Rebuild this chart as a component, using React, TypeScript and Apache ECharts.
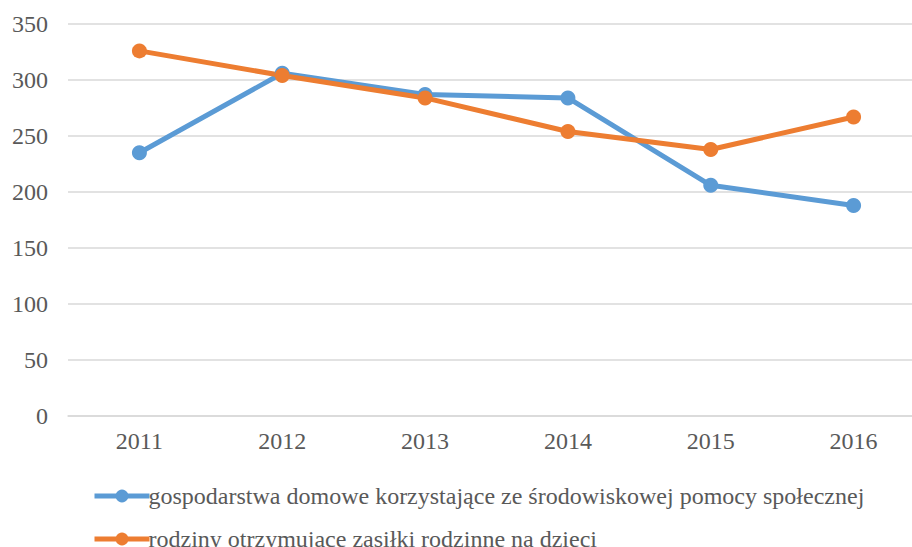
import React, { useEffect, useRef } from "react";
import * as echarts from "echarts";

const categories = ["2011", "2012", "2013", "2014", "2015", "2016"];
const householdsSocialAid = [235, 306, 287, 284, 206, 188];
const familiesChildBenefits = [326, 304, 284, 254, 238, 267];
const seriesNames = [
  "gospodarstwa domowe korzystające ze środowiskowej pomocy społecznej",
  "rodziny otrzymujące zasiłki rodzinne na dzieci",
];

const FONT = "Liberation Serif";
const TEXT = "#595959";

export default function App() {
  const ref = useRef<HTMLDivElement>(null);
  useEffect(() => {
    if (!ref.current) return;
    const chart = echarts.init(ref.current, undefined, { renderer: "svg" });
    const legendText = { color: TEXT, fontSize: 24, fontFamily: FONT, padding: [0, 0, 0, -6] };
    const legendBase = {
      left: 87,
      itemWidth: 55,
      itemHeight: 16,
      textStyle: legendText,
      lineStyle: { width: 5 },
    };
    chart.setOption({
      animation: false,
      backgroundColor: "#ffffff",
      textStyle: { fontFamily: FONT },
      grid: {
        left: 68,
        width: 857,
        top: 24,
        bottom: 131,
        containLabel: false,
        outerBoundsMode: "none",
      },
      xAxis: {
        type: "category",
        data: categories,
        boundaryGap: true,
        axisLine: { show: true, lineStyle: { color: "#d9d9d9", width: 1.5 } },
        axisTick: { show: false },
        axisLabel: { color: TEXT, fontSize: 24, fontFamily: FONT, margin: 13 },
      },
      yAxis: {
        type: "value",
        min: 0,
        max: 350,
        interval: 50,
        axisLine: { show: false },
        axisTick: { show: false },
        axisLabel: { color: TEXT, fontSize: 24, fontFamily: FONT, margin: 20 },
        splitLine: { lineStyle: { color: "#d9d9d9", width: 1.5 } },
      },
      legend: [
        { ...legendBase, top: 479, data: [seriesNames[0]] },
        { ...legendBase, top: 522, data: [seriesNames[1]] },
      ],
      series: [
        {
          name: seriesNames[0],
          type: "line",
          data: householdsSocialAid,
          symbol: "circle",
          symbolSize: 15,
          lineStyle: { color: "#5b9bd5", width: 5 },
          itemStyle: { color: "#5b9bd5" },
        },
        {
          name: seriesNames[1],
          type: "line",
          data: familiesChildBenefits,
          symbol: "circle",
          symbolSize: 15,
          lineStyle: { color: "#ed7d31", width: 5 },
          itemStyle: { color: "#ed7d31" },
        },
      ],
    });
    return () => chart.dispose();
  }, []);
  return (
    <div
      ref={ref}
      style={{ position: "fixed", left: 0, top: 0, width: 912, height: 547 }}
    />
  );
}
